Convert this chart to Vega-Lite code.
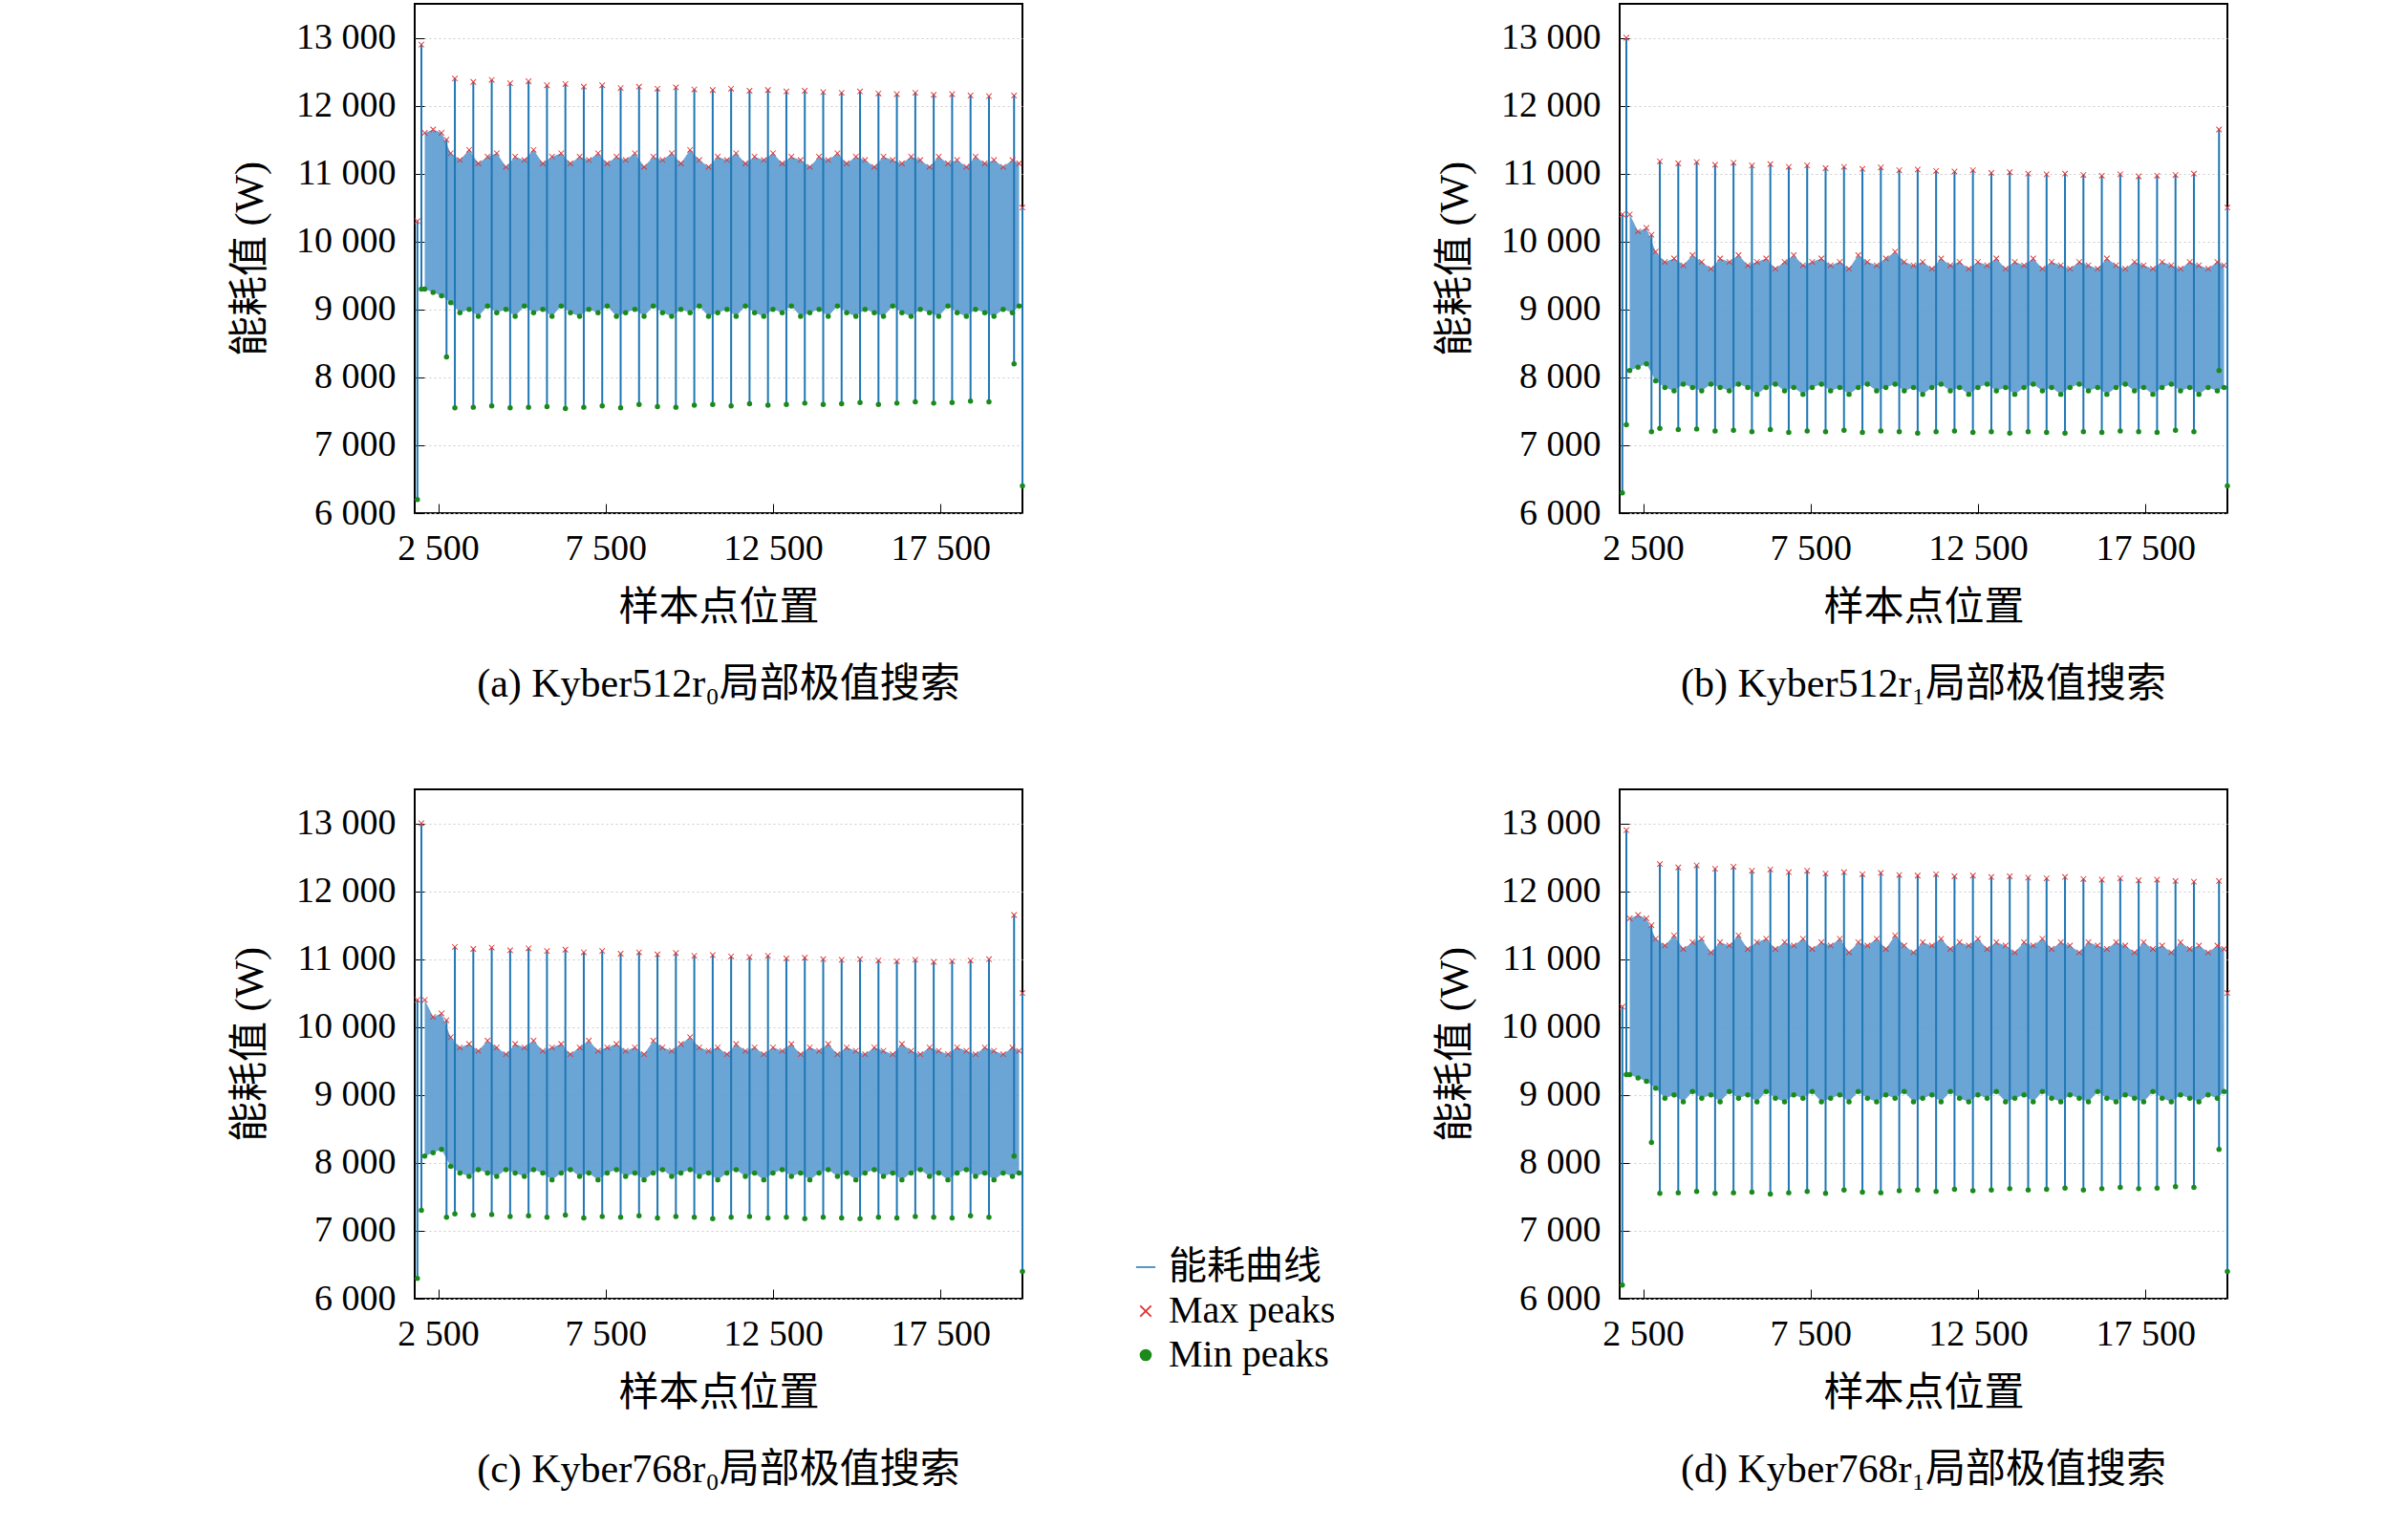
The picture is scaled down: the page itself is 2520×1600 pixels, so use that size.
{
  "$schema": "https://vega.github.io/schema/vega-lite/v6.json",
  "background": "white",
  "padding": {"left": 239, "top": 3, "right": 10, "bottom": 10},
  "datasets": {
    "band": [
      {"x":2100,"ah":11600,"al":9300,"bh":10400,"bl":8100},
      {"x":2350,"ah":11650,"al":9250,"bh":10150,"bl":8150},
      {"x":2600,"ah":11600,"al":9200,"bh":10200,"bl":8200},
      {"x":2875,"ah":11300,"al":9100,"bh":9850,"bl":7950},
      {"x":3150,"ah":11200,"al":8950,"bh":9700,"bl":7850},
      {"x":3425,"ah":11350,"al":9000,"bh":9750,"bl":7800},
      {"x":3700,"ah":11150,"al":8900,"bh":9650,"bl":7900},
      {"x":3975,"ah":11250,"al":9050,"bh":9800,"bl":7850},
      {"x":4250,"ah":11300,"al":8950,"bh":9700,"bl":7800},
      {"x":4525,"ah":11100,"al":9000,"bh":9600,"bl":7900},
      {"x":4800,"ah":11250,"al":8900,"bh":9750,"bl":7850},
      {"x":5075,"ah":11200,"al":9050,"bh":9700,"bl":7800},
      {"x":5350,"ah":11350,"al":8950,"bh":9800,"bl":7900},
      {"x":5625,"ah":11150,"al":9000,"bh":9650,"bl":7850},
      {"x":5900,"ah":11250,"al":8900,"bh":9700,"bl":7750},
      {"x":6175,"ah":11300,"al":9050,"bh":9750,"bl":7850},
      {"x":6450,"ah":11150,"al":8950,"bh":9600,"bl":7900},
      {"x":6725,"ah":11250,"al":8900,"bh":9700,"bl":7800},
      {"x":7000,"ah":11200,"al":9000,"bh":9800,"bl":7850},
      {"x":7275,"ah":11300,"al":8950,"bh":9650,"bl":7750},
      {"x":7550,"ah":11150,"al":9050,"bh":9700,"bl":7850},
      {"x":7825,"ah":11250,"al":8900,"bh":9750,"bl":7900},
      {"x":8100,"ah":11200,"al":8950,"bh":9650,"bl":7800},
      {"x":8375,"ah":11300,"al":9000,"bh":9700,"bl":7850},
      {"x":8650,"ah":11100,"al":8900,"bh":9600,"bl":7750},
      {"x":8925,"ah":11250,"al":9050,"bh":9800,"bl":7850},
      {"x":9200,"ah":11200,"al":8950,"bh":9700,"bl":7900},
      {"x":9475,"ah":11300,"al":8900,"bh":9650,"bl":7800},
      {"x":9750,"ah":11150,"al":9000,"bh":9750,"bl":7850},
      {"x":10025,"ah":11350,"al":8950,"bh":9850,"bl":7900},
      {"x":10300,"ah":11200,"al":9050,"bh":9700,"bl":7800},
      {"x":10575,"ah":11100,"al":8900,"bh":9650,"bl":7850},
      {"x":10850,"ah":11250,"al":8950,"bh":9700,"bl":7750},
      {"x":11125,"ah":11200,"al":9000,"bh":9600,"bl":7850},
      {"x":11400,"ah":11300,"al":8900,"bh":9750,"bl":7900},
      {"x":11675,"ah":11150,"al":9050,"bh":9650,"bl":7800},
      {"x":11950,"ah":11250,"al":8950,"bh":9700,"bl":7850},
      {"x":12225,"ah":11200,"al":8900,"bh":9600,"bl":7750},
      {"x":12500,"ah":11300,"al":9000,"bh":9700,"bl":7850},
      {"x":12775,"ah":11150,"al":8950,"bh":9650,"bl":7900},
      {"x":13050,"ah":11250,"al":9050,"bh":9750,"bl":7800},
      {"x":13325,"ah":11200,"al":8900,"bh":9600,"bl":7850},
      {"x":13600,"ah":11100,"al":8950,"bh":9700,"bl":7750},
      {"x":13875,"ah":11250,"al":9000,"bh":9650,"bl":7850},
      {"x":14150,"ah":11200,"al":8900,"bh":9750,"bl":7900},
      {"x":14425,"ah":11300,"al":9050,"bh":9600,"bl":7800},
      {"x":14700,"ah":11150,"al":8950,"bh":9700,"bl":7850},
      {"x":14975,"ah":11250,"al":8900,"bh":9650,"bl":7750},
      {"x":15250,"ah":11200,"al":9000,"bh":9600,"bl":7850},
      {"x":15525,"ah":11100,"al":8950,"bh":9700,"bl":7900},
      {"x":15800,"ah":11250,"al":8900,"bh":9650,"bl":7800},
      {"x":16075,"ah":11200,"al":9050,"bh":9600,"bl":7850},
      {"x":16350,"ah":11150,"al":8950,"bh":9750,"bl":7750},
      {"x":16625,"ah":11250,"al":8900,"bh":9650,"bl":7850},
      {"x":16900,"ah":11200,"al":9000,"bh":9600,"bl":7900},
      {"x":17175,"ah":11100,"al":8950,"bh":9700,"bl":7800},
      {"x":17450,"ah":11250,"al":8900,"bh":9650,"bl":7850},
      {"x":17725,"ah":11150,"al":9050,"bh":9600,"bl":7750},
      {"x":18000,"ah":11200,"al":8950,"bh":9700,"bl":7850},
      {"x":18275,"ah":11100,"al":8900,"bh":9650,"bl":7900},
      {"x":18550,"ah":11250,"al":9000,"bh":9600,"bl":7800},
      {"x":18825,"ah":11150,"al":8950,"bh":9700,"bl":7850},
      {"x":19100,"ah":11200,"al":8900,"bh":9650,"bl":7750},
      {"x":19375,"ah":11100,"al":9000,"bh":9600,"bl":7850},
      {"x":19650,"ah":11200,"al":8950,"bh":9700,"bl":7800},
      {"x":19850,"ah":11150,"al":9050,"bh":9650,"bl":7850}
    ],
    "cyc": [
      {"x":1880,"at":10300,"ab":6200,"bt":10400,"bb":6300},
      {"x":2000,"at":12900,"ab":9300,"bt":13000,"bb":7300},
      {"x":2750,"at":11500,"ab":8300,"bt":10100,"bb":7200},
      {"x":3000,"at":12400,"ab":7550,"bt":11180,"bb":7250},
      {"x":3550,"at":12350,"ab":7560,"bt":11150,"bb":7230},
      {"x":4100,"at":12380,"ab":7580,"bt":11170,"bb":7240},
      {"x":4650,"at":12330,"ab":7550,"bt":11130,"bb":7210},
      {"x":5200,"at":12360,"ab":7560,"bt":11160,"bb":7220},
      {"x":5750,"at":12300,"ab":7570,"bt":11120,"bb":7200},
      {"x":6300,"at":12320,"ab":7540,"bt":11140,"bb":7230},
      {"x":6850,"at":12280,"ab":7560,"bt":11100,"bb":7190},
      {"x":7400,"at":12300,"ab":7580,"bt":11120,"bb":7210},
      {"x":7950,"at":12260,"ab":7550,"bt":11080,"bb":7200},
      {"x":8500,"at":12280,"ab":7600,"bt":11100,"bb":7220},
      {"x":9050,"at":12250,"ab":7570,"bt":11070,"bb":7190},
      {"x":9600,"at":12270,"ab":7560,"bt":11090,"bb":7210},
      {"x":10150,"at":12240,"ab":7590,"bt":11050,"bb":7200},
      {"x":10700,"at":12230,"ab":7600,"bt":11060,"bb":7180},
      {"x":11250,"at":12250,"ab":7580,"bt":11040,"bb":7200},
      {"x":11800,"at":12220,"ab":7610,"bt":11030,"bb":7210},
      {"x":12350,"at":12230,"ab":7590,"bt":11050,"bb":7190},
      {"x":12900,"at":12210,"ab":7600,"bt":11010,"bb":7200},
      {"x":13450,"at":12220,"ab":7620,"bt":11020,"bb":7180},
      {"x":14000,"at":12200,"ab":7600,"bt":11000,"bb":7200},
      {"x":14550,"at":12190,"ab":7610,"bt":10990,"bb":7190},
      {"x":15100,"at":12210,"ab":7630,"bt":11000,"bb":7180},
      {"x":15650,"at":12180,"ab":7600,"bt":10980,"bb":7200},
      {"x":16200,"at":12170,"ab":7620,"bt":10970,"bb":7190},
      {"x":16750,"at":12190,"ab":7640,"bt":10990,"bb":7210},
      {"x":17300,"at":12160,"ab":7620,"bt":10960,"bb":7200},
      {"x":17850,"at":12170,"ab":7630,"bt":10970,"bb":7190},
      {"x":18400,"at":12150,"ab":7650,"bt":10980,"bb":7220},
      {"x":18950,"at":12140,"ab":7640,"bt":11000,"bb":7200},
      {"x":19700,"at":12150,"ab":8200,"bt":11650,"bb":8100},
      {"x":19950,"at":10500,"ab":6400,"bt":10500,"bb":6400}
    ],
    "leg": [{"s":"能耗曲线"},{"s":"Max peaks"},{"s":"Min peaks"}]
  },
  "vconcat": [
    {"hconcat": [
      {"width":636,"height":533,
       "title":"(a) Kyber512r₀局部极值搜索",
       "layer":[
        {"data":{"name":"band"},"mark":{"type":"area","color":"#5b9bd0","opacity":0.9},
         "encoding":{"x":{"field":"x","type":"quantitative","scale":{"domain":[1800,19950],"zero":false,"nice":false},"title":"样本点位置","axis":{"values":[2500,7500,12500,17500]}},
                     "y":{"field":"ah","type":"quantitative","scale":{"domain":[6000,13500],"zero":false,"nice":false},"title":"能耗值 (W)","axis":{"values":[6000,7000,8000,9000,10000,11000,12000,13000]}},"y2":{"field":"al"}}},
        {"data":{"name":"cyc"},"mark":{"type":"rule","color":"#1f77b4","strokeWidth":2},
         "encoding":{"x":{"field":"x","type":"quantitative"},"y":{"field":"at","type":"quantitative"},"y2":{"field":"ab"}}},
        {"data":{"name":"band"},"mark":{"type":"point","shape":"M-1,-0.8L-0.8,-1L0,-0.2L0.8,-1L1,-0.8L0.2,0L1,0.8L0.8,1L0,0.2L-0.8,1L-1,0.8L-0.2,0Z","filled":true,"color":"#e03030","size":40,"opacity":1},
         "encoding":{"x":{"field":"x","type":"quantitative"},"y":{"field":"ah","type":"quantitative"}}},
        {"data":{"name":"cyc"},"mark":{"type":"point","shape":"M-1,-0.8L-0.8,-1L0,-0.2L0.8,-1L1,-0.8L0.2,0L1,0.8L0.8,1L0,0.2L-0.8,1L-1,0.8L-0.2,0Z","filled":true,"color":"#e03030","size":40,"opacity":1},
         "encoding":{"x":{"field":"x","type":"quantitative"},"y":{"field":"at","type":"quantitative"}}},
        {"data":{"name":"band"},"mark":{"type":"circle","color":"#1a8a1a","size":30,"opacity":1},
         "encoding":{"x":{"field":"x","type":"quantitative"},"y":{"field":"al","type":"quantitative"}}},
        {"data":{"name":"cyc"},"mark":{"type":"circle","color":"#1a8a1a","size":30,"opacity":1},
         "encoding":{"x":{"field":"x","type":"quantitative"},"y":{"field":"ab","type":"quantitative"}}}
       ]},
      {"width":636,"height":533,
       "title":"(b) Kyber512r₁局部极值搜索",
       "layer":[
        {"data":{"name":"band"},"mark":{"type":"area","color":"#5b9bd0","opacity":0.9},
         "encoding":{"x":{"field":"x","type":"quantitative","scale":{"domain":[1800,19950],"zero":false,"nice":false},"title":"样本点位置","axis":{"values":[2500,7500,12500,17500]}},
                     "y":{"field":"bh","type":"quantitative","scale":{"domain":[6000,13500],"zero":false,"nice":false},"title":"能耗值 (W)","axis":{"values":[6000,7000,8000,9000,10000,11000,12000,13000]}},"y2":{"field":"bl"}}},
        {"data":{"name":"cyc"},"mark":{"type":"rule","color":"#1f77b4","strokeWidth":2},
         "encoding":{"x":{"field":"x","type":"quantitative"},"y":{"field":"bt","type":"quantitative"},"y2":{"field":"bb"}}},
        {"data":{"name":"band"},"mark":{"type":"point","shape":"M-1,-0.8L-0.8,-1L0,-0.2L0.8,-1L1,-0.8L0.2,0L1,0.8L0.8,1L0,0.2L-0.8,1L-1,0.8L-0.2,0Z","filled":true,"color":"#e03030","size":40,"opacity":1},
         "encoding":{"x":{"field":"x","type":"quantitative"},"y":{"field":"bh","type":"quantitative"}}},
        {"data":{"name":"cyc"},"mark":{"type":"point","shape":"M-1,-0.8L-0.8,-1L0,-0.2L0.8,-1L1,-0.8L0.2,0L1,0.8L0.8,1L0,0.2L-0.8,1L-1,0.8L-0.2,0Z","filled":true,"color":"#e03030","size":40,"opacity":1},
         "encoding":{"x":{"field":"x","type":"quantitative"},"y":{"field":"bt","type":"quantitative"}}},
        {"data":{"name":"band"},"mark":{"type":"circle","color":"#1a8a1a","size":30,"opacity":1},
         "encoding":{"x":{"field":"x","type":"quantitative"},"y":{"field":"bl","type":"quantitative"}}},
        {"data":{"name":"cyc"},"mark":{"type":"circle","color":"#1a8a1a","size":30,"opacity":1},
         "encoding":{"x":{"field":"x","type":"quantitative"},"y":{"field":"bb","type":"quantitative"}}}
       ]}
    ]},
    {"hconcat": [
      {"width":636,"height":533,
       "title":"(c) Kyber768r₀局部极值搜索",
       "layer":[
        {"data":{"name":"band"},"mark":{"type":"area","color":"#5b9bd0","opacity":0.9},
         "encoding":{"x":{"field":"x","type":"quantitative","scale":{"domain":[1800,19950],"zero":false,"nice":false},"title":"样本点位置","axis":{"values":[2500,7500,12500,17500]}},
                     "y":{"field":"bh","type":"quantitative","scale":{"domain":[6000,13500],"zero":false,"nice":false},"title":"能耗值 (W)","axis":{"values":[6000,7000,8000,9000,10000,11000,12000,13000]}},"y2":{"field":"bl"}}},
        {"data":{"name":"cyc"},"mark":{"type":"rule","color":"#1f77b4","strokeWidth":2},
         "encoding":{"x":{"field":"x","type":"quantitative"},"y":{"field":"bt","type":"quantitative"},"y2":{"field":"bb"}}},
        {"data":{"name":"band"},"mark":{"type":"point","shape":"M-1,-0.8L-0.8,-1L0,-0.2L0.8,-1L1,-0.8L0.2,0L1,0.8L0.8,1L0,0.2L-0.8,1L-1,0.8L-0.2,0Z","filled":true,"color":"#e03030","size":40,"opacity":1},
         "encoding":{"x":{"field":"x","type":"quantitative"},"y":{"field":"bh","type":"quantitative"}}},
        {"data":{"name":"cyc"},"mark":{"type":"point","shape":"M-1,-0.8L-0.8,-1L0,-0.2L0.8,-1L1,-0.8L0.2,0L1,0.8L0.8,1L0,0.2L-0.8,1L-1,0.8L-0.2,0Z","filled":true,"color":"#e03030","size":40,"opacity":1},
         "encoding":{"x":{"field":"x","type":"quantitative"},"y":{"field":"bt","type":"quantitative"}}},
        {"data":{"name":"band"},"mark":{"type":"circle","color":"#1a8a1a","size":30,"opacity":1},
         "encoding":{"x":{"field":"x","type":"quantitative"},"y":{"field":"bl","type":"quantitative"}}},
        {"data":{"name":"cyc"},"mark":{"type":"circle","color":"#1a8a1a","size":30,"opacity":1},
         "encoding":{"x":{"field":"x","type":"quantitative"},"y":{"field":"bb","type":"quantitative"}}},
        {"data":{"name":"leg"},"mark":{"type":"point","filled":true,"opacity":1,"size":0},
         "encoding":{"x":{"value":0},"y":{"value":0},
           "color":{"field":"s","type":"nominal","scale":{"domain":["能耗曲线","Max peaks","Min peaks"],"range":["#1f77b4","#e03030","#1a8a1a"]},"legend":{"title":null,"orient":"none","legendX":745,"legendY":480,"symbolOpacity":1,"symbolSize":160,"labelLimit":400}},
           "shape":{"field":"s","type":"nominal","scale":{"domain":["能耗曲线","Max peaks","Min peaks"],"range":["M-1.6,-0.12L1.6,-0.12L1.6,0.12L-1.6,0.12Z","M-1,-0.8L-0.8,-1L0,-0.2L0.8,-1L1,-0.8L0.2,0L1,0.8L0.8,1L0,0.2L-0.8,1L-1,0.8L-0.2,0Z","circle"]}}}}
       ]},
      {"width":636,"height":533,
       "title":"(d) Kyber768r₁局部极值搜索",
       "layer":[
        {"data":{"name":"band"},"mark":{"type":"area","color":"#5b9bd0","opacity":0.9},
         "encoding":{"x":{"field":"x","type":"quantitative","scale":{"domain":[1800,19950],"zero":false,"nice":false},"title":"样本点位置","axis":{"values":[2500,7500,12500,17500]}},
                     "y":{"field":"ah","type":"quantitative","scale":{"domain":[6000,13500],"zero":false,"nice":false},"title":"能耗值 (W)","axis":{"values":[6000,7000,8000,9000,10000,11000,12000,13000]}},"y2":{"field":"al"}}},
        {"data":{"name":"cyc"},"mark":{"type":"rule","color":"#1f77b4","strokeWidth":2},
         "encoding":{"x":{"field":"x","type":"quantitative"},"y":{"field":"at","type":"quantitative"},"y2":{"field":"ab"}}},
        {"data":{"name":"band"},"mark":{"type":"point","shape":"M-1,-0.8L-0.8,-1L0,-0.2L0.8,-1L1,-0.8L0.2,0L1,0.8L0.8,1L0,0.2L-0.8,1L-1,0.8L-0.2,0Z","filled":true,"color":"#e03030","size":40,"opacity":1},
         "encoding":{"x":{"field":"x","type":"quantitative"},"y":{"field":"ah","type":"quantitative"}}},
        {"data":{"name":"cyc"},"mark":{"type":"point","shape":"M-1,-0.8L-0.8,-1L0,-0.2L0.8,-1L1,-0.8L0.2,0L1,0.8L0.8,1L0,0.2L-0.8,1L-1,0.8L-0.2,0Z","filled":true,"color":"#e03030","size":40,"opacity":1},
         "encoding":{"x":{"field":"x","type":"quantitative"},"y":{"field":"at","type":"quantitative"}}},
        {"data":{"name":"band"},"mark":{"type":"circle","color":"#1a8a1a","size":30,"opacity":1},
         "encoding":{"x":{"field":"x","type":"quantitative"},"y":{"field":"al","type":"quantitative"}}},
        {"data":{"name":"cyc"},"mark":{"type":"circle","color":"#1a8a1a","size":30,"opacity":1},
         "encoding":{"x":{"field":"x","type":"quantitative"},"y":{"field":"ab","type":"quantitative"}}}
       ]}
    ]}
  ],
  "spacing": 87,
  "resolve": {"scale": {"color": "independent", "shape": "independent"}},
  "config": {
    "concat": {"spacing": 425},
    "view": {"stroke": "black", "strokeWidth": 2},
    "axis": {
      "labelFont": "Liberation Serif", "labelFontSize": 38, "labelColor": "black",
      "titleFont": "Liberation Serif, Noto Sans CJK SC", "titleFontSize": 42, "titleFontWeight": "normal", "titleColor": "black",
      "domain": false, "tickColor": "black", "tickSize": -10,
      "labelExpr": "replace(format(datum.value, ','), ',', ' ')"
    },
    "axisX": {"grid": false, "labelPadding": 28, "titlePadding": 22},
    "axisY": {"grid": true, "gridColor": "#cccccc", "gridDash": [2, 3], "gridWidth": 1, "labelPadding": 30, "titlePadding": 26},
    "title": {"orient": "bottom", "font": "Liberation Serif, Noto Sans CJK SC", "fontSize": 42, "fontWeight": "normal", "color": "black", "offset": 40},
    "legend": {"labelFont": "Liberation Serif, Noto Sans CJK SC", "labelFontSize": 40, "labelColor": "black", "rowPadding": 6}
  }
}
